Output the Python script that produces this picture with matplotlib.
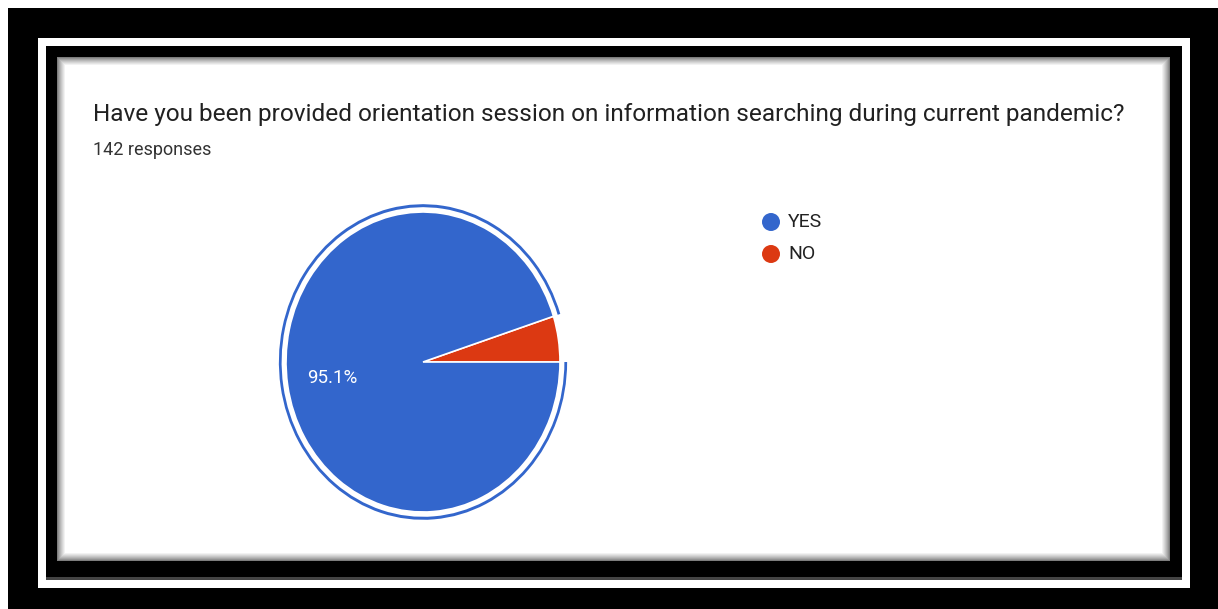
import numpy as np
import matplotlib
matplotlib.use('Agg')
import matplotlib.pyplot as plt
from matplotlib.patches import Rectangle, Wedge, Ellipse

# survey answers
labels = ['YES', 'NO']
counts = [135, 7]
colors = ['#3366cc', '#dc3912']
title = 'Have you been provided orientation session on information searching during current pandemic?'
subtitle = '142 responses'

W, H = 1218, 609
fig = plt.figure(figsize=(W / 100, H / 100), dpi=100)
fig.patch.set_facecolor('black')

def px(x0, y0, x1, y1):
    # pixel box (top-left origin) -> figure fraction rect args
    return (x0 / W, 1 - y1 / H), (x1 - x0) / W, (y1 - y0) / H

def rect(x0, y0, x1, y1, color, z):
    xy, w, h = px(x0, y0, x1, y1)
    fig.add_artist(Rectangle(xy, w, h, transform=fig.transFigure,
                             facecolor=color, edgecolor='none', zorder=z))

# frame: white margin, black border, white strip, black border, shaded white card
rect(0, 0, W, 8, 'white', 0)
rect(0, 0, 8, H, 'white', 0)
rect(38, 38, 1190, 588, 'white', 1)
rect(46, 46, 1182, 580, '#444444', 2)
rect(46, 46, 1182, 577, 'black', 3)
steps = 9
for i in range(steps):
    g = 0.35 + 0.65 * ((i + 1) / steps) ** 0.7
    rect(57 + i, 57 + i, 1170 - i, 561 - i, (g, g, g), 4 + i)

# title texts
fig.text(93 / W, 1 - 115 / H, title, fontsize=17.6, family='Roboto',
         color='#212121', va='center', ha='left', zorder=30)
fig.text(93 / W, 1 - 150 / H, subtitle, fontsize=13, family='Roboto',
         color='#333333', va='center', ha='left', zorder=30)

# pie axes (slightly squeezed horizontally like the source)
cx, cy, rx, ry = 423, 362, 137, 150
ax = fig.add_axes([(cx - 1.1 * rx) / W, (H - cy - 1.1 * ry) / H,
                   2.2 * rx / W, 2.2 * ry / H])
ax.set_zorder(20)
ax.patch.set_alpha(0)

total = sum(counts)

def pct(p):
    return '%.1f%%' % p if p > 10 else ''

wedges, texts, autotexts = ax.pie(counts[::-1], colors=colors[::-1], startangle=0,
                                  counterclock=True, autopct=pct, pctdistance=0.67,
                                  wedgeprops=dict(edgecolor='white', linewidth=1.2),
                                  textprops=dict(color='white', fontsize=13.5, family='Roboto'))
ax.set_aspect('auto')
ax.set_xlim(-1.1, 1.1)
ax.set_ylim(-1.1, 1.1)
ax.axis('off')

# highlight ring around YES slice
t1 = 360 * counts[1] / total
ax.add_patch(Wedge((0, 0), 1.052, t1, 360, width=0.02, facecolor=colors[0],
                   edgecolor='none'))

# legend
for i, (lab, col) in enumerate(zip(labels, colors)):
    ly = 222 + 32 * i
    fig.add_artist(Ellipse((771 / W, 1 - ly / H), 18 / W, 18 / H,
                           transform=fig.transFigure, facecolor=col,
                           edgecolor='none', zorder=30))
    fig.text(788 / W, 1 - ly / H, lab, fontsize=14, family='Roboto',
             color='#222222', va='center', ha='left', zorder=30)

fig.savefig('out.png', dpi=100, facecolor=fig.get_facecolor())
